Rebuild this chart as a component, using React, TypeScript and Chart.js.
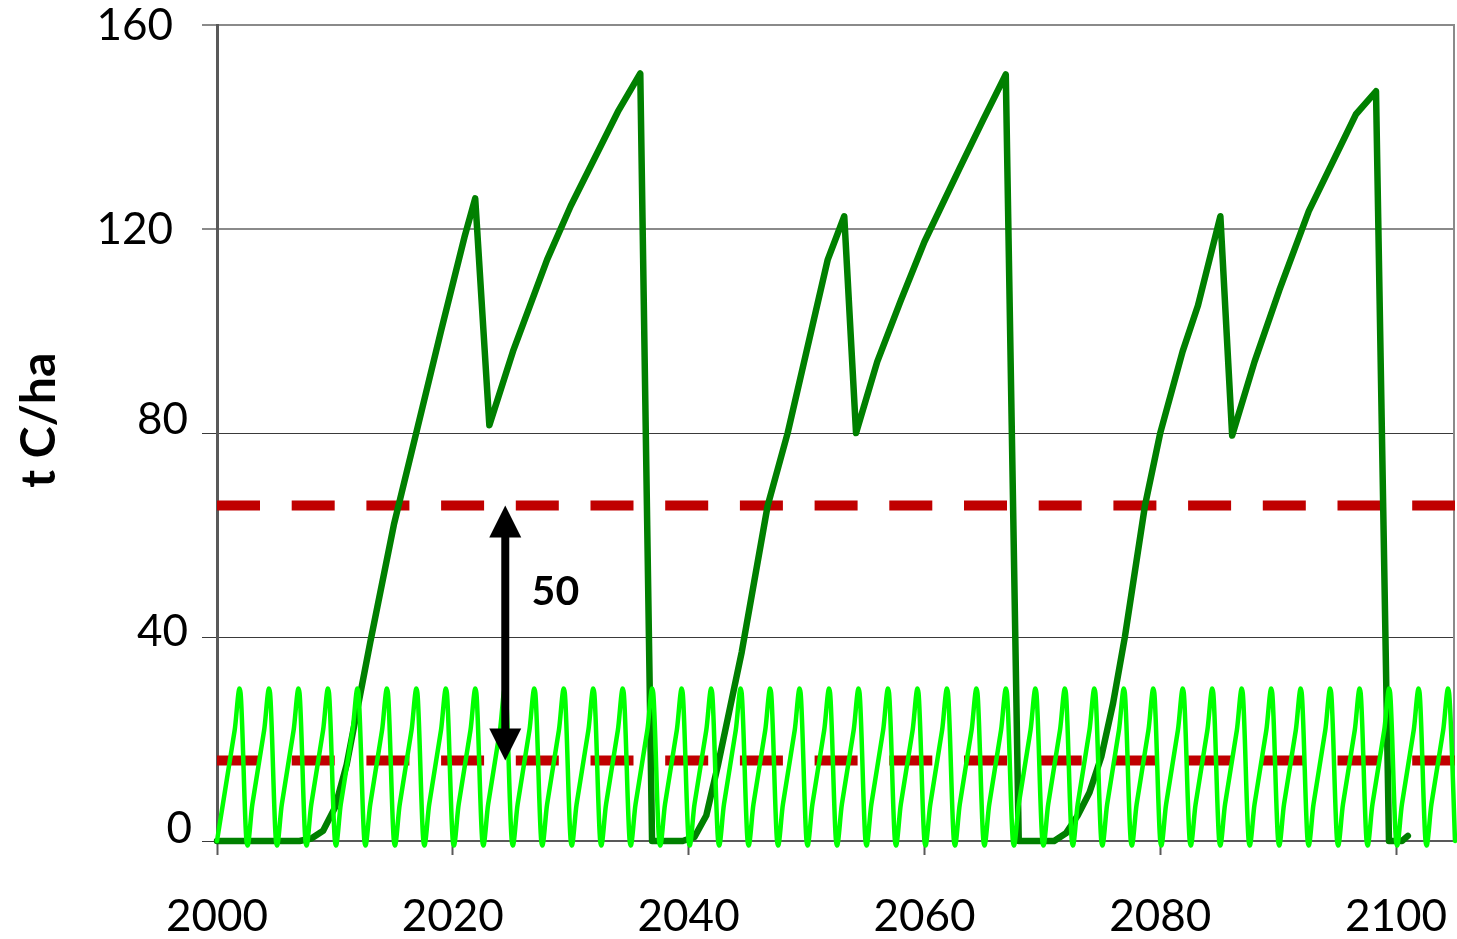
import { useEffect, useRef } from 'react';
import { Chart, registerables } from 'chart.js';

Chart.register(...registerables);

const FONT = 'Lato, "Open Sans", sans-serif';

// Axis ticks
const yearTicks = [2000, 2020, 2040, 2060, 2080, 2100];
const carbonTicks = [0, 40, 80, 120, 160];

// Long-rotation forest stand: carbon stock (t C/ha) with a thinning and a clear-fell each rotation
const forestYears = [
  2000, 2007, 2008, 2009, 2010, 2011, 2012, 2013, 2015, 2017, 2019, 2021, 2021.9, 2023.1, 2025.1, 2028, 2030, 2034, 2035.9, 2036.9,
  2039.5, 2040.5, 2041.5, 2042.5, 2043.5, 2044.5, 2046.7, 2048.4, 2049.9, 2051.8, 2053.2, 2054.2, 2056, 2058, 2060, 2063, 2065, 2066.9, 2068,
  2071, 2072, 2073, 2074, 2075, 2076, 2077, 2078.7, 2080, 2081.9, 2083.2, 2085.1, 2086.1, 2088, 2090.1, 2092.6, 2096.6, 2098.3, 2099.4, 2100.5, 2101,
];
const forestStock = [
  0, 0, 0.5, 2, 6.5, 15, 27, 39, 62, 81, 100, 118.5, 126, 81.5, 96, 114, 124.5, 143, 150.5, 0,
  0, 0.8, 5, 15, 26, 37, 65.7, 80, 95, 114, 122.5, 80, 94, 106, 117.5, 132, 141.5, 150.3, 0,
  0, 1.5, 5, 9.5, 16.5, 27, 40, 65.7, 80, 96, 105, 122.5, 79.5, 94, 108, 123.5, 142.5, 147, 0, 0, 1,
];

// Short-rotation coppice: carbon stock in half-year steps, harvested every 2.5 years
const coppiceYears = [
  2000, 2000.5, 2001, 2001.5, 2002, 2002.5, 2003, 2003.5, 2004, 2004.5,
  2005, 2005.5, 2006, 2006.5, 2007, 2007.5, 2008, 2008.5, 2009, 2009.5,
  2010, 2010.5, 2011, 2011.5, 2012, 2012.5, 2013, 2013.5, 2014, 2014.5,
  2015, 2015.5, 2016, 2016.5, 2017, 2017.5, 2018, 2018.5, 2019, 2019.5,
  2020, 2020.5, 2021, 2021.5, 2022, 2022.5, 2023, 2023.5, 2024, 2024.5,
  2025, 2025.5, 2026, 2026.5, 2027, 2027.5, 2028, 2028.5, 2029, 2029.5,
  2030, 2030.5, 2031, 2031.5, 2032, 2032.5, 2033, 2033.5, 2034, 2034.5,
  2035, 2035.5, 2036, 2036.5, 2037, 2037.5, 2038, 2038.5, 2039, 2039.5,
  2040, 2040.5, 2041, 2041.5, 2042, 2042.5, 2043, 2043.5, 2044, 2044.5,
  2045, 2045.5, 2046, 2046.5, 2047, 2047.5, 2048, 2048.5, 2049, 2049.5,
  2050, 2050.5, 2051, 2051.5, 2052, 2052.5, 2053, 2053.5, 2054, 2054.5,
  2055, 2055.5, 2056, 2056.5, 2057, 2057.5, 2058, 2058.5, 2059, 2059.5,
  2060, 2060.5, 2061, 2061.5, 2062, 2062.5, 2063, 2063.5, 2064, 2064.5,
  2065, 2065.5, 2066, 2066.5, 2067, 2067.5, 2068, 2068.5, 2069, 2069.5,
  2070, 2070.5, 2071, 2071.5, 2072, 2072.5, 2073, 2073.5, 2074, 2074.5,
  2075, 2075.5, 2076, 2076.5, 2077, 2077.5, 2078, 2078.5, 2079, 2079.5,
  2080, 2080.5, 2081, 2081.5, 2082, 2082.5, 2083, 2083.5, 2084, 2084.5,
  2085, 2085.5, 2086, 2086.5, 2087, 2087.5, 2088, 2088.5, 2089, 2089.5,
  2090, 2090.5, 2091, 2091.5, 2092, 2092.5, 2093, 2093.5, 2094, 2094.5,
  2095, 2095.5, 2096, 2096.5, 2097, 2097.5, 2098, 2098.5, 2099, 2099.5,
  2100, 2100.5, 2101, 2101.5, 2102, 2102.5, 2103, 2103.5, 2104, 2104.5,
  2105,
];
const coppiceStock = [
  0, 7.25, 14.5, 21.75, 29, 0, 7.25, 14.5, 21.75, 29,
  0, 7.25, 14.5, 21.75, 29, 0, 7.25, 14.5, 21.75, 29,
  0, 7.25, 14.5, 21.75, 29, 0, 7.25, 14.5, 21.75, 29,
  0, 7.25, 14.5, 21.75, 29, 0, 7.25, 14.5, 21.75, 29,
  0, 7.25, 14.5, 21.75, 29, 0, 7.25, 14.5, 21.75, 29,
  0, 7.25, 14.5, 21.75, 29, 0, 7.25, 14.5, 21.75, 29,
  0, 7.25, 14.5, 21.75, 29, 0, 7.25, 14.5, 21.75, 29,
  0, 7.25, 14.5, 21.75, 29, 0, 7.25, 14.5, 21.75, 29,
  0, 7.25, 14.5, 21.75, 29, 0, 7.25, 14.5, 21.75, 29,
  0, 7.25, 14.5, 21.75, 29, 0, 7.25, 14.5, 21.75, 29,
  0, 7.25, 14.5, 21.75, 29, 0, 7.25, 14.5, 21.75, 29,
  0, 7.25, 14.5, 21.75, 29, 0, 7.25, 14.5, 21.75, 29,
  0, 7.25, 14.5, 21.75, 29, 0, 7.25, 14.5, 21.75, 29,
  0, 7.25, 14.5, 21.75, 29, 0, 7.25, 14.5, 21.75, 29,
  0, 7.25, 14.5, 21.75, 29, 0, 7.25, 14.5, 21.75, 29,
  0, 7.25, 14.5, 21.75, 29, 0, 7.25, 14.5, 21.75, 29,
  0, 7.25, 14.5, 21.75, 29, 0, 7.25, 14.5, 21.75, 29,
  0, 7.25, 14.5, 21.75, 29, 0, 7.25, 14.5, 21.75, 29,
  0, 7.25, 14.5, 21.75, 29, 0, 7.25, 14.5, 21.75, 29,
  0, 7.25, 14.5, 21.75, 29, 0, 7.25, 14.5, 21.75, 29,
  0, 7.25, 14.5, 21.75, 29, 0, 7.25, 14.5, 21.75, 29,
  0,
];

// Long-term average stocks of the two systems
const meanYears = [2000, 2105];
const forestMean = [65.8, 65.8];
const coppiceMean = [15.8, 15.8];

// Where the difference arrow, its label and the axis title sit
const arrowYear = 2024.45;
const gapLabelYear = 2028.7;
const gapLabelValue = 48.8;
const axisTitle = 't C/ha';
const axisTitleValue = 82.5;

// Small nudges [dx, dy] applied to the y tick labels
const yLabelNudge: Record<number, [number, number]> = {
  160: [0, 1],
  120: [0, 1],
  80: [15, -13],
  40: [15, -5],
  0: [19, -12],
};

const toPoints = (xs: number[], ys: number[]) => xs.map((x, i) => ({ x, y: ys[i] }));

// Even-weighted cubic smoothing for the coppice curve (tangent = 1/6 of neighbour chord)
const smoothPlugin = {
  id: 'evenSmoothing',
  beforeDatasetDraw(chart: any, args: any) {
    if (args.index !== 0) return;
    const meta = args.meta;
    const line = meta.dataset;
    line.updateControlPoints(chart.chartArea, 'x');
    const pts = meta.data;
    const k = 1 / 6;
    for (let i = 0; i < pts.length; i++) {
      const p = pts[i];
      const prev = pts[i - 1] || p;
      const next = pts[i + 1] || p;
      const tx = (next.x - prev.x) * k;
      const ty = (next.y - prev.y) * k;
      p.cp1x = p.x - tx;
      p.cp1y = p.y - ty;
      p.cp2x = p.x + tx;
      p.cp2y = p.y + ty;
    }
  },
};

const overlayPlugin = {
  id: 'stockOverlay',
  beforeDatasetsDraw(chart: any) {
    const { ctx, chartArea } = chart;
    ctx.save();
    ctx.strokeStyle = '#8a8a8a';
    ctx.lineWidth = 2;
    ctx.beginPath();
    ctx.moveTo(chartArea.right - 1, chartArea.top);
    ctx.lineTo(chartArea.right - 1, chartArea.bottom);
    ctx.stroke();
    ctx.restore();
  },
  afterDraw(chart: any) {
    const { ctx, chartArea } = chart;
    const x = chart.scales.x;
    const y = chart.scales.y;
    ctx.save();

    // y tick labels
    ctx.fillStyle = '#000';
    ctx.font = `44px ${FONT}`;
    ctx.textAlign = 'right';
    ctx.textBaseline = 'middle';
    for (const v of carbonTicks) {
      const [dx, dy] = yLabelNudge[v] || [0, 0];
      ctx.fillText(String(v), chartArea.left - 44 + dx, y.getPixelForValue(v) + dy);
    }

    // y axis title
    ctx.save();
    ctx.translate(chartArea.left - 177, y.getPixelForValue(axisTitleValue));
    ctx.rotate(-Math.PI / 2);
    ctx.font = `bold 48px ${FONT}`;
    ctx.textAlign = 'center';
    ctx.textBaseline = 'middle';
    ctx.fillText(axisTitle, 0, 0);
    ctx.restore();

    // double-headed arrow between the two averages
    const ax = x.getPixelForValue(arrowYear);
    const yTop = y.getPixelForValue(forestMean[0]);
    const yBot = y.getPixelForValue(coppiceMean[0]);
    const head = 32;
    const half = 16;
    const shaft = 8;
    ctx.fillStyle = '#000';
    ctx.fillRect(ax - shaft / 2, yTop + head - 1, shaft, yBot - yTop - 2 * head + 2);
    ctx.beginPath();
    ctx.moveTo(ax, yTop);
    ctx.lineTo(ax + half, yTop + head);
    ctx.lineTo(ax - half, yTop + head);
    ctx.closePath();
    ctx.fill();
    ctx.beginPath();
    ctx.moveTo(ax, yBot);
    ctx.lineTo(ax + half, yBot - head);
    ctx.lineTo(ax - half, yBot - head);
    ctx.closePath();
    ctx.fill();

    // size of the gap
    ctx.font = `bold 41px ${FONT}`;
    ctx.textAlign = 'center';
    ctx.textBaseline = 'middle';
    const gap = Math.round(forestMean[0] - coppiceMean[0]);
    ctx.fillText(String(gap), x.getPixelForValue(gapLabelYear), y.getPixelForValue(gapLabelValue));
    ctx.restore();
  },
};

export default function App() {
  const canvasRef = useRef<HTMLCanvasElement>(null);

  useEffect(() => {
    const canvas = canvasRef.current;
    if (!canvas) return;
    let chart: Chart | null = null;
    let cancelled = false;

    const build = () => {
      if (cancelled) return;
      chart = new Chart(canvas, {
        type: 'line',
        data: {
          datasets: [
            {
              label: 'Short-rotation coppice',
              data: toPoints(coppiceYears, coppiceStock),
              borderColor: '#00ff00',
              borderWidth: 4.5,
              tension: 0.4,
              borderJoinStyle: 'round',
              borderCapStyle: 'round',
              pointRadius: 0,
              clip: false,
            },
            {
              label: 'Forest stand',
              data: toPoints(forestYears, forestStock),
              borderColor: '#008000',
              borderWidth: 6.5,
              tension: 0,
              borderJoinStyle: 'round',
              borderCapStyle: 'round',
              pointRadius: 0,
              clip: false,
            },
            {
              label: 'Forest average',
              data: toPoints(meanYears, forestMean),
              borderColor: '#c00000',
              borderWidth: 10,
              borderDash: [43, 31.7],
              borderCapStyle: 'butt',
              pointRadius: 0,
            },
            {
              label: 'Coppice average',
              data: toPoints(meanYears, coppiceMean),
              borderColor: '#c00000',
              borderWidth: 10,
              borderDash: [43, 31.7],
              borderCapStyle: 'butt',
              pointRadius: 0,
            },
          ],
        },
        options: {
          animation: false,
          responsive: false,
          devicePixelRatio: 1,
          layout: { padding: { top: 25, right: 2, left: 0, bottom: 0 } },
          elements: { point: { radius: 0 }, line: { capBezierPoints: false } },
          plugins: { legend: { display: false }, tooltip: { enabled: false } },
          scales: {
            x: {
              type: 'linear',
              min: 2000,
              max: 2105,
              afterBuildTicks: (s: any) => {
                s.ticks = yearTicks.map((v) => ({ value: v }));
              },
              afterFit: (s: any) => {
                s.height = 98;
                s.paddingLeft = 0;
                s.paddingRight = 0;
              },
              ticks: {
                color: '#000',
                font: { family: FONT, size: 44 },
                padding: 35,
                maxRotation: 0,
                autoSkip: false,
                callback: (v: any) => String(v),
              },
              grid: {
                drawOnChartArea: false,
                drawTicks: true,
                tickLength: 14,
                tickColor: '#595959',
                tickWidth: 2,
              },
              border: { display: true, color: '#595959', width: 2 },
            },
            y: {
              type: 'linear',
              min: 0,
              max: 160,
              afterBuildTicks: (s: any) => {
                s.ticks = carbonTicks.map((v) => ({ value: v }));
              },
              afterFit: (s: any) => {
                s.width = 217;
                s.paddingTop = 0;
                s.paddingBottom = 0;
              },
              ticks: { display: false },
              grid: {
                drawTicks: true,
                tickLength: 15,
                color: (c: any) => (c.tick && c.tick.value >= 120 ? '#8a8a8a' : '#3a3a3a'),
                lineWidth: (c: any) => (c.tick && c.tick.value >= 120 ? 2 : 1),
              },
              border: { display: true, color: '#595959', width: 3 },
            },
          },
        },
        plugins: [smoothPlugin, overlayPlugin],
      } as any);
    };

    const fonts = (document as any).fonts;
    if (fonts && fonts.load) {
      Promise.all([fonts.load(`44px ${FONT}`), fonts.load(`bold 48px ${FONT}`)])
        .catch(() => undefined)
        .then(build);
    } else {
      build();
    }

    return () => {
      cancelled = true;
      if (chart) chart.destroy();
    };
  }, []);

  return (
    <div style={{ position: 'fixed', left: 0, top: 0, width: 1457, height: 939, background: '#fff' }}>
      <canvas ref={canvasRef} width={1457} height={939} style={{ display: 'block' }} />
    </div>
  );
}
